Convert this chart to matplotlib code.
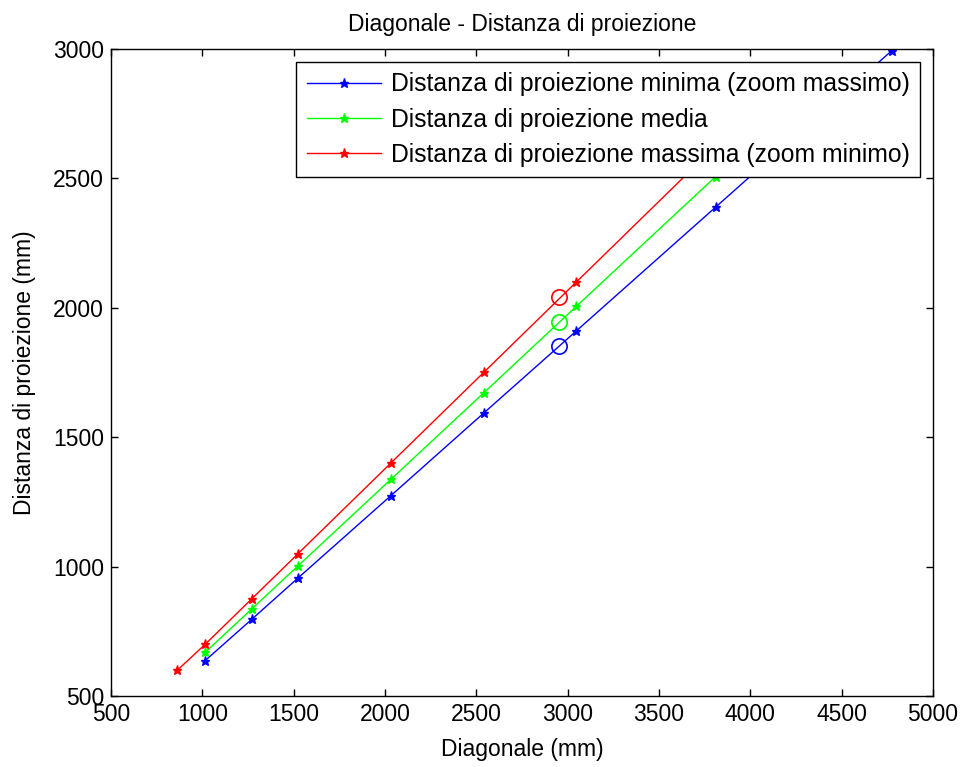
import matplotlib
matplotlib.use("Agg")
import matplotlib.pyplot as plt

plt.rcParams['font.family'] = ['Liberation Sans', 'DejaVu Sans']

# Data (mm)
diag_min = [1016, 1270, 1524, 2032, 2540, 3048, 3810, 4775]
dist_min = [637, 796, 956, 1274, 1593, 1911, 2389, 2994]

diag_med = [1016, 1270, 1524, 2032, 2540, 3048, 3810]
dist_med = [669, 836, 1003, 1337, 1671, 2006, 2507]

diag_max = [864, 1016, 1270, 1524, 2032, 2540, 3048, 3810]
dist_max = [600, 700, 875, 1050, 1400, 1750, 2100, 2625]

circle_x = [2950, 2950, 2950]
circle_y = [1854, 1947, 2040]
circle_colors = ['#0000ff', '#00ff00', '#ff0000']

labels = ['Distanza di proiezione minima (zoom massimo)',
          'Distanza di proiezione media',
          'Distanza di proiezione massima (zoom minimo)']

W, H = 963, 767
fig = plt.figure(figsize=(W / 100, H / 100), dpi=100)
ax = fig.add_axes([111 / W, (H - 696) / H, 822 / W, 647 / H])

fs = 16.5
ms = 6.5
ax.plot(diag_min, dist_min, color='#0000ff', lw=1, marker='*', ms=ms, label=labels[0])
ax.plot(diag_med, dist_med, color='#00ff00', lw=1, marker='*', ms=ms, label=labels[1])
ax.plot(diag_max, dist_max, color='#ff0000', lw=1, marker='*', ms=ms, label=labels[2])

for cx, cy, cc in zip(circle_x, circle_y, circle_colors):
    ax.plot([cx], [cy], marker='o', ms=11, mfc='none', mec=cc, mew=1.2, ls='none')

ax.set_xlim(500, 5000)
ax.set_ylim(500, 3000)
ax.set_xticks(range(500, 5001, 500))
ax.set_yticks(range(500, 3001, 500))
ax.tick_params(direction='in', length=5, width=1, top=True, right=True,
               labelsize=fs, pad=5)
for s in ax.spines.values():
    s.set_linewidth(1)
    s.set_color('black')

ax.set_title('Diagonale - Distanza di proiezione', fontsize=fs, pad=13)
ax.set_xlabel('Diagonale (mm)', fontsize=fs, labelpad=9)
ax.set_ylabel('Distanza di proiezione (mm)', fontsize=fs, labelpad=12)

leg = ax.legend(loc='upper right', bbox_to_anchor=((920 - 111) / 822, (696 - 62) / 647),
                borderaxespad=0, fontsize=17.8, fancybox=False, framealpha=1,
                edgecolor='black', handlelength=3.0, handletextpad=0.4,
                labelspacing=0.45, borderpad=0.42, markerscale=1.0)
leg.get_frame().set_linewidth(1)
leg.set_zorder(10)

fig.savefig('out.png', dpi=100, facecolor='white')
